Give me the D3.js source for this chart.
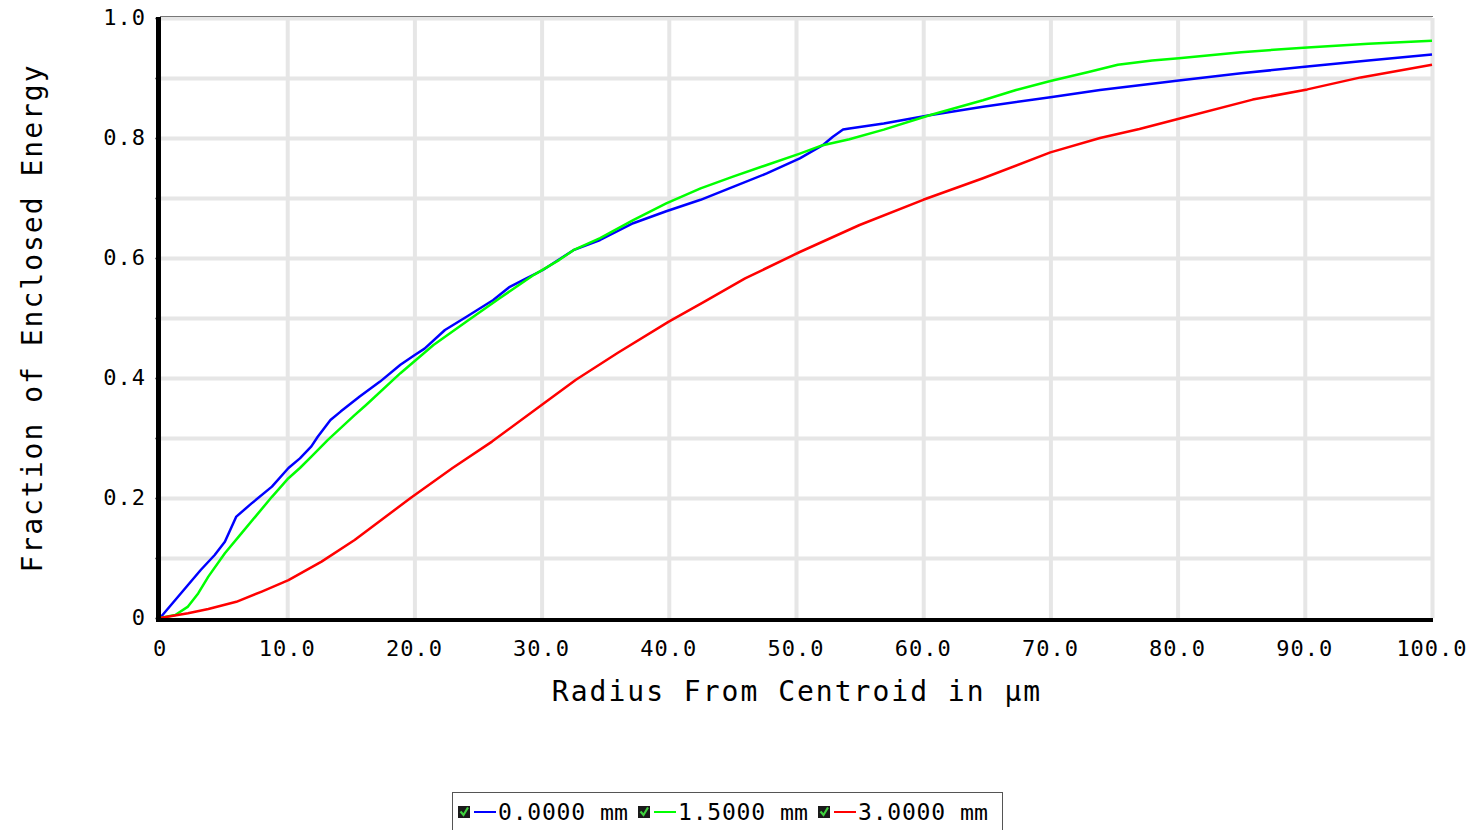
<html>
  <head>
    <style>
      body { margin: 0; background: #fff; }
      text { font-family: "DejaVu Sans Mono", monospace; fill: #000; }
      .grid line { stroke: #e6e6e6; stroke-width: 4; }
      .grid path { display: none; }
      .series { fill: none; stroke-width: 2.5; stroke-linejoin: round; }
    </style>
  </head>
  <body>
    <svg></svg>
    <script src="https://d3js.org/d3.v7.min.js"></script>
    <script>
      let width = 1476,
        height = 830;

      // radius (um) / enclosed energy
      let blueR = [0, 1.0, 2.2, 3.2, 4.3, 5.1, 6.0, 7.2, 8.8, 10.1, 11.0, 11.9, 12.4, 13.4, 14.2, 15.7, 17.3, 18.9, 20.0, 20.8, 22.4, 24.1, 26.2, 27.5, 28.8, 30.1, 32.5, 34.6, 37.2, 39.8, 42.5, 45.1, 47.7, 50.3, 52.1, 52.9, 53.7, 54.2, 56.9, 60.5, 64.7, 70.0, 73.9, 80.1, 85.0, 90.2, 95.0, 100];
      let blueV = [0, 0.025, 0.055, 0.08, 0.105, 0.127, 0.169, 0.191, 0.219, 0.25, 0.266, 0.286, 0.302, 0.33, 0.344, 0.369, 0.394, 0.422, 0.438, 0.449, 0.48, 0.502, 0.53, 0.552, 0.566, 0.58, 0.613, 0.63, 0.658, 0.678, 0.697, 0.719, 0.741, 0.766, 0.788, 0.802, 0.814, 0.816, 0.824, 0.838, 0.852, 0.868, 0.88, 0.896, 0.908, 0.919, 0.929, 0.939];

      let greenR = [0, 1.2, 2.2, 3.0, 3.8, 5.1, 6.4, 7.5, 8.8, 10.1, 11.0, 11.9, 13.2, 15.3, 16.2, 18.9, 21.5, 24.1, 26.7, 29.4, 31.4, 32.5, 34.6, 37.2, 39.8, 42.5, 45.1, 47.7, 50.3, 52.1, 54.2, 56.9, 60.5, 64.7, 67.3, 70.0, 73.0, 75.3, 78.0, 80.1, 85.0, 90.2, 95.0, 100];
      let greenV = [0, 0.005, 0.019, 0.041, 0.069, 0.108, 0.141, 0.169, 0.202, 0.233, 0.25, 0.269, 0.297, 0.338, 0.355, 0.408, 0.455, 0.494, 0.533, 0.572, 0.597, 0.613, 0.633, 0.663, 0.691, 0.716, 0.736, 0.755, 0.774, 0.788, 0.798, 0.814, 0.838, 0.863, 0.88, 0.895, 0.91, 0.922, 0.929, 0.933, 0.943, 0.951, 0.957, 0.962];

      let redR = [0, 2.2, 3.8, 6.0, 8.0, 10.1, 12.7, 15.3, 17.5, 19.7, 23.0, 26.1, 30.0, 32.7, 36.0, 40.0, 42.7, 46.0, 50.3, 55.0, 60.0, 64.7, 70.0, 73.9, 77.0, 80.1, 85.9, 90.2, 94.4, 100];
      let redV = [0, 0.008, 0.015, 0.027, 0.044, 0.063, 0.094, 0.13, 0.165, 0.2, 0.25, 0.294, 0.355, 0.397, 0.442, 0.494, 0.526, 0.566, 0.61, 0.655, 0.697, 0.733, 0.776, 0.8, 0.815, 0.832, 0.864, 0.881, 0.901, 0.922];

      let seriesNames = ["0.0000", "1.5000", "3.0000"];
      let seriesColors = ["#0000ff", "#00ff00", "#ff0000"];
      let xTicks = [0, 10, 20, 30, 40, 50, 60, 70, 80, 90, 100];
      let yTicks = [0, 0.2, 0.4, 0.6, 0.8, 1.0];
      let yGrid = [0.1, 0.2, 0.3, 0.4, 0.5, 0.6, 0.7, 0.8, 0.9, 1.0];

      let series = [
        { name: seriesNames[0], color: seriesColors[0], pts: blueR.map((r, i) => [r, blueV[i]]) },
        { name: seriesNames[1], color: seriesColors[1], pts: greenR.map((r, i) => [r, greenV[i]]) },
        { name: seriesNames[2], color: seriesColors[2], pts: redR.map((r, i) => [r, redV[i]]) },
      ];

      let svg = d3.select("svg").attr("width", width).attr("height", height);

      let plotLeft = 160, plotRight = 1432, plotTop = 18, plotBottom = 618;
      let x = d3.scaleLinear().domain([0, 100]).range([plotLeft, plotRight]);
      let y = d3.scaleLinear().domain([0, 1]).range([plotBottom, plotTop]);

      // grid
      svg.append("g")
        .attr("class", "grid")
        .attr("transform", "translate(0," + plotBottom + ")")
        .call(d3.axisBottom(x).tickValues(xTicks.slice(1)).tickSize(-(plotBottom - plotTop)).tickFormat(""));
      svg.append("g")
        .attr("class", "grid")
        .attr("transform", "translate(" + plotLeft + ",0)")
        .call(d3.axisLeft(y).tickValues(yGrid).tickSize(-(plotRight - plotLeft)).tickFormat(""));

      // top border
      svg.append("line")
        .attr("x1", plotLeft).attr("x2", plotRight + 1)
        .attr("y1", plotTop - 1.5).attr("y2", plotTop - 1.5)
        .attr("stroke", "#777").attr("stroke-width", 1);

      // lines
      let line = d3.line().x((d) => x(d[0])).y((d) => y(d[1]));
      svg.append("g")
        .selectAll("path")
        .data(series)
        .enter()
        .append("path")
        .attr("class", "series")
        .attr("stroke", (d) => d.color)
        .attr("d", (d) => line(d.pts));

      // axes
      let yAxis = svg.append("g")
        .attr("transform", "translate(" + (plotLeft - 1.5) + ",0)")
        .call(d3.axisLeft(y).tickValues(yGrid.concat([0])).tickSize(3).tickFormat(""));
      yAxis.select(".domain").attr("stroke", "#000").attr("stroke-width", 5).attr("d", "M0," + (plotTop - 1) + "V" + (plotBottom + 4));
      yAxis.selectAll(".tick line").attr("stroke", "#000").attr("stroke-width", 1.5);

      let xAxis = svg.append("g")
        .attr("transform", "translate(0," + (plotBottom + 2) + ")")
        .call(d3.axisBottom(x).tickValues([]).tickSize(0));
      xAxis.select(".domain").attr("stroke", "#000").attr("stroke-width", 4).attr("d", "M" + (plotLeft - 3) + ",0H" + (plotRight + 1));

      // tick labels
      svg.append("g")
        .selectAll("text")
        .data(yTicks)
        .enter()
        .append("text")
        .attr("x", 146)
        .attr("y", (d) => y(d) + 7)
        .attr("text-anchor", "end")
        .attr("font-size", 22)
        .attr("letter-spacing", 1)
        .text((d) => (d === 0 ? "0" : d.toFixed(1)));

      svg.append("g")
        .selectAll("text")
        .data(xTicks)
        .enter()
        .append("text")
        .attr("x", (d) => x(d))
        .attr("y", 656)
        .attr("text-anchor", "middle")
        .attr("font-size", 22)
        .attr("letter-spacing", 1)
        .text((d) => (d === 0 ? "0" : d.toFixed(1)));

      // titles
      svg.append("text")
        .attr("x", 797)
        .attr("y", 701)
        .attr("text-anchor", "middle")
        .attr("font-size", 28)
        .attr("letter-spacing", 2)
        .text("Radius From Centroid in µm");

      svg.append("text")
        .attr("transform", "translate(42,318) rotate(-90)")
        .attr("text-anchor", "middle")
        .attr("font-size", 28)
        .attr("letter-spacing", 2)
        .text("Fraction of Enclosed Energy");

      // legend
      let legend = svg.append("g");
      legend.append("rect")
        .attr("x", 452.5).attr("y", 792.5)
        .attr("width", 550).attr("height", 50)
        .attr("fill", "#fff").attr("stroke", "#555").attr("stroke-width", 1);

      let item = legend.selectAll("g.item")
        .data(series)
        .enter()
        .append("g")
        .attr("class", "item")
        .attr("transform", (d, i) => "translate(" + (458 + i * 180) + ",0)");
      item.append("rect")
        .attr("x", 0).attr("y", 806).attr("width", 12).attr("height", 12)
        .attr("fill", "#1a1a1a");
      item.append("path")
        .attr("d", "M2.5,811.5 L5.5,815 L10,807.5")
        .attr("fill", "none").attr("stroke", "#3ed23e").attr("stroke-width", 2.2);
      item.append("line")
        .attr("x1", 16).attr("x2", 38).attr("y1", 812).attr("y2", 812)
        .attr("stroke", (d) => d.color).attr("stroke-width", 2);
      item.append("text")
        .attr("x", 40).attr("y", 820)
        .attr("font-size", 23)
        .attr("letter-spacing", 0.8)
        .text((d) => d.name);
      item.append("text")
        .attr("x", 142).attr("y", 820)
        .attr("font-size", 22)
        .attr("textLength", 28)
        .attr("lengthAdjust", "spacingAndGlyphs")
        .text("mm");
    </script>
  </body>
</html>
